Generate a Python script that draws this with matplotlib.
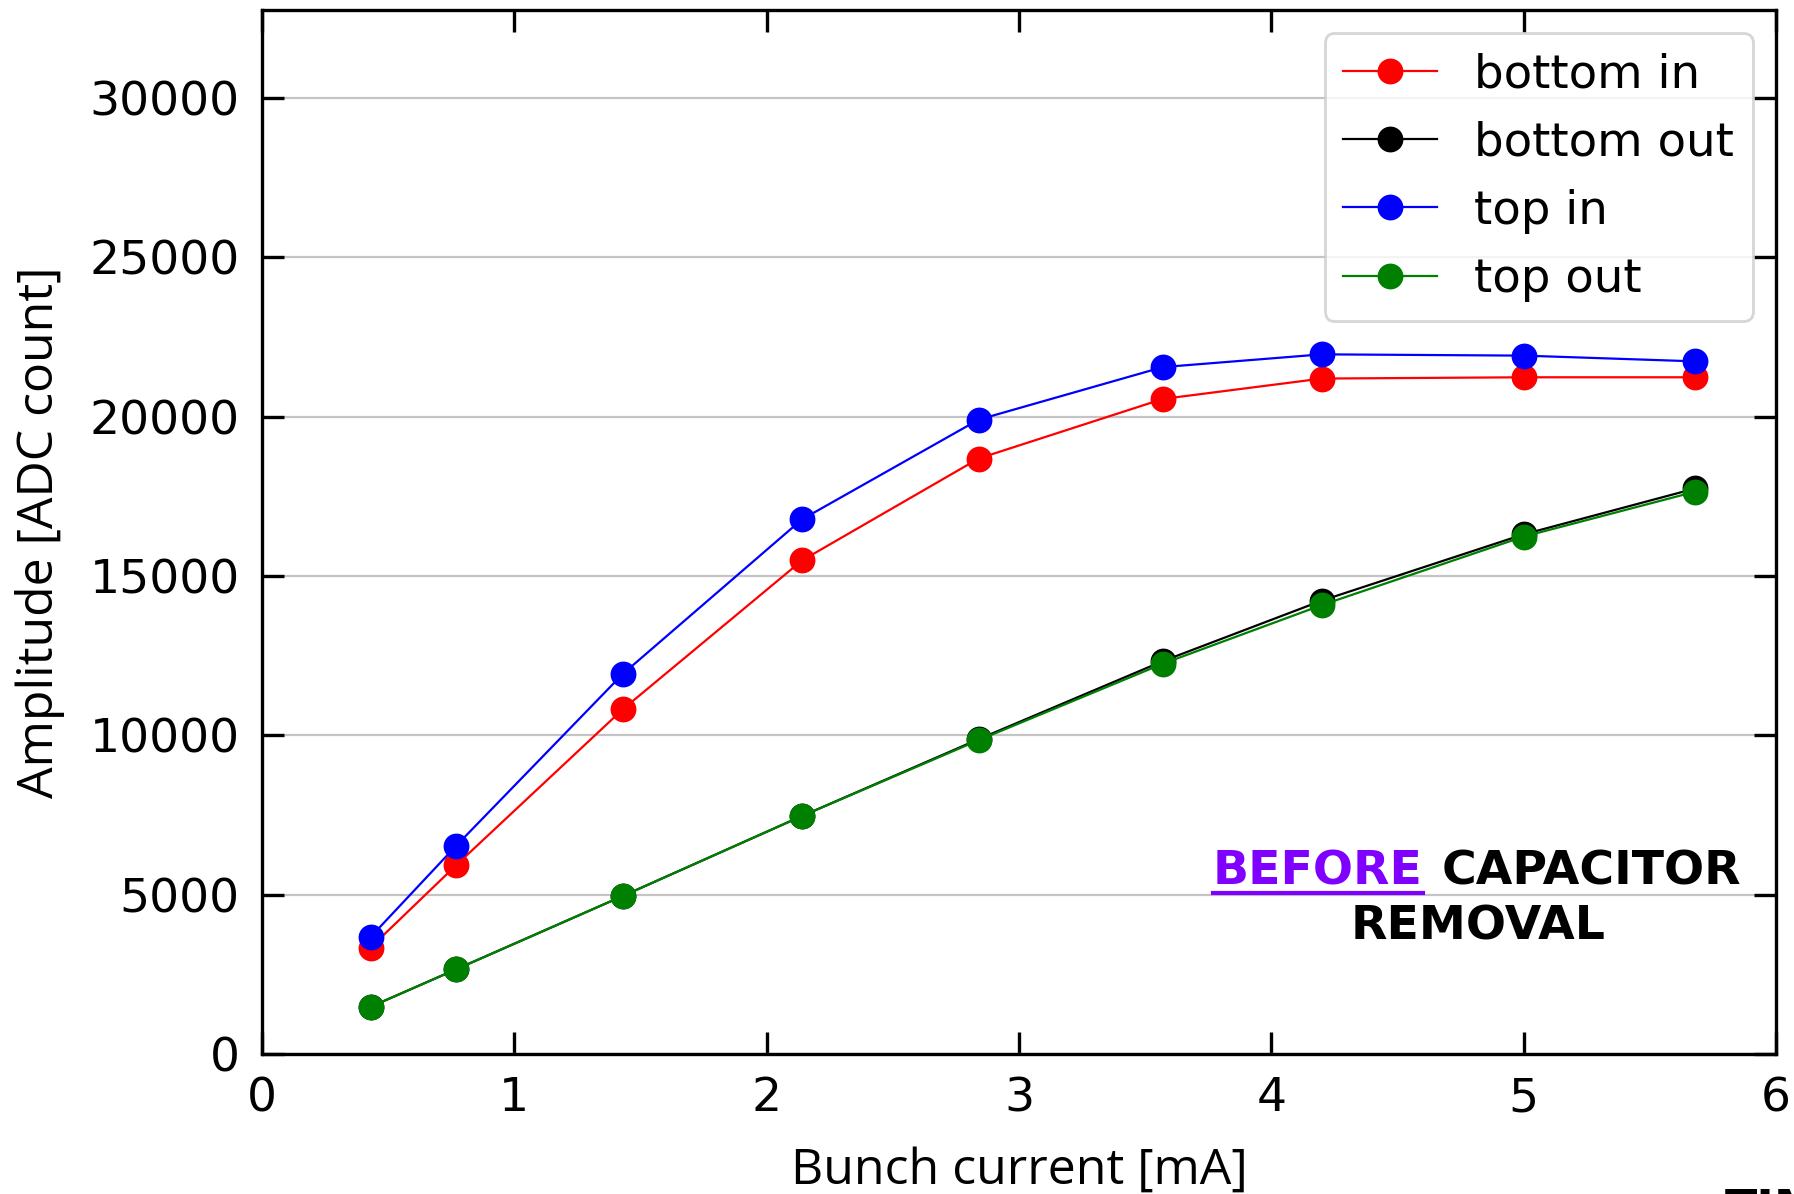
import matplotlib.pyplot as plt
from matplotlib.lines import Line2D

# bunch current [mA]
current = [0.43, 0.77, 1.43, 2.14, 2.84, 3.57, 4.20, 5.00, 5.68]

# amplitudes [ADC count]
bottom_in = [3340, 5930, 10820, 15490, 18690, 20560, 21200, 21240, 21240]
bottom_out = [1480, 2660, 4960, 7470, 9880, 12330, 14230, 16310, 17750]
top_in = [3670, 6540, 11930, 16780, 19910, 21560, 21960, 21920, 21740]
top_out = [1480, 2660, 4960, 7470, 9850, 12250, 14090, 16240, 17650]

series = [("bottom in", bottom_in, "red"),
          ("bottom out", bottom_out, "black"),
          ("top in", top_in, "blue"),
          ("top out", top_out, "green")]

plt.rcParams["font.family"] = "DejaVu Sans"

fig = plt.figure(figsize=(8.97, 5.97), dpi=200)
ax = fig.add_axes([262/1794, 1-1054/1194, (1776-262)/1794, (1054-10)/1194])

for label, vals, color in series:
    ax.plot(current, vals, "-o", color=color, label=label,
            linewidth=0.8, markersize=8.3)

ax.set_xlim(0, 6)
ax.set_ylim(0, 32768)
ax.set_yticks(range(0, 30001, 5000))
ax.grid(axis="y", color="#c4c4c4", linewidth=0.8)
ax.set_axisbelow(True)

ax.tick_params(direction="in", top=True, right=True, length=8, width=1.2,
               labelsize=17, pad=8)
for s in ax.spines.values():
    s.set_linewidth(1.2)

ax.set_xlabel("Bunch current [mA]", fontsize=18, family="Open Sans", labelpad=9)
ax.set_ylabel("Amplitude [ADC count]", fontsize=18, family="Open Sans", labelpad=9)

ax.legend(loc="upper right", fontsize=16.8, handlelength=2.0)

# annotation
t1 = ax.text(4.60, 5720, "BEFORE", color="#7f00ff", fontsize=17,
             fontweight="bold", ha="right", va="center")
ax.text(4.675, 5720, "CAPACITOR", color="black", fontsize=17,
        fontweight="bold", ha="left", va="center")
ax.text(4.82, 4000, "REMOVAL", color="black", fontsize=17,
        fontweight="bold", ha="center", va="center")

fig.canvas.draw()
bb = t1.get_window_extent().transformed(fig.transFigure.inverted())
fig.add_artist(Line2D([bb.x0, bb.x1], [bb.y0 + 0.001, bb.y0 + 0.001],
                      transform=fig.transFigure, color="#7f00ff", linewidth=1.5))

# clipped fragment at the bottom right edge
fig.text(1725/1794, 6/1194, "TIME", fontsize=17, fontweight="bold",
         ha="left", va="top")

fig.savefig("out.png", dpi=200)
